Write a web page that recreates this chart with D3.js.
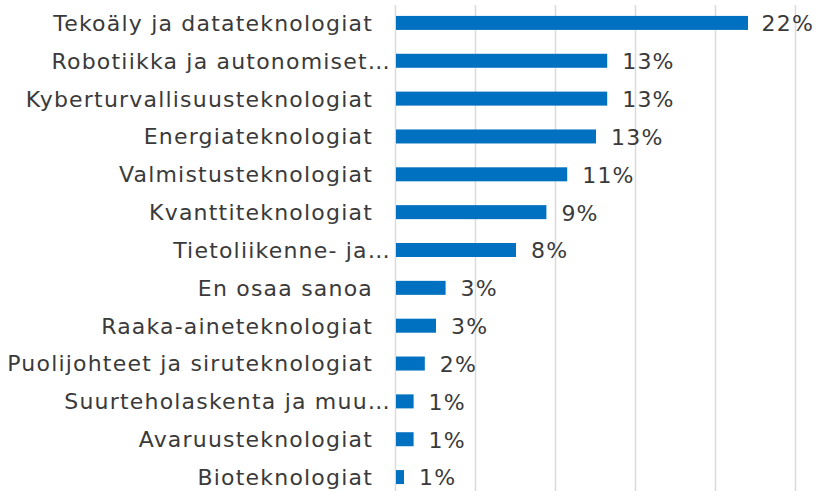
<!DOCTYPE html>
<html>
<head>
<meta charset="utf-8">
<script src="https://cdn.jsdelivr.net/npm/d3@7"></script>
<style>
  body { margin: 0; background: #fff; }
  text { font-family: "DejaVu Sans", Verdana, sans-serif; fill: #3a3a3a; }
</style>
</head>
<body>
<div id="chart"></div>
<script>
// Categories (top to bottom) and share of answers in percent
const categories = [
  'Tekoäly ja datateknologiat',
  'Robotiikka ja autonomiset…',
  'Kyberturvallisuusteknologiat',
  'Energiateknologiat',
  'Valmistusteknologiat',
  'Kvanttiteknologiat',
  'Tietoliikenne- ja…',
  'En osaa sanoa',
  'Raaka-aineteknologiat',
  'Puolijohteet ja siruteknologiat',
  'Suurteholaskenta ja muu…',
  'Avaruusteknologiat',
  'Bioteknologiat'
];
const values = [22, 13.2, 13.2, 12.5, 10.7, 9.4, 7.5, 3.1, 2.5, 1.8, 1.1, 1.1, 0.5];
const gridTicks = [0, 5, 10, 15, 20, 25];

const width = 817, height = 491;
const fontSize = 22;
const barHeight = 14;

const svg = d3.select('#chart').append('svg')
  .attr('width', width)
  .attr('height', height);

const x = d3.scaleLinear().domain([0, 25]).range([396, 796]);
const y = d3.scaleBand().domain(categories).range([4, 496]);

// Vertical gridlines
svg.append('g')
  .selectAll('line')
  .data(gridTicks)
  .enter().append('line')
  .attr('x1', d => x(d) - 0.5)
  .attr('x2', d => x(d) - 0.5)
  .attr('y1', 5)
  .attr('y2', 497)
  .attr('stroke', '#D9D9E0')
  .attr('stroke-width', 1.5);

// Bars
svg.append('g')
  .selectAll('rect')
  .data(values)
  .enter().append('rect')
  .attr('x', x(0))
  .attr('y', (d, i) => y(categories[i]) + (y.bandwidth() - barHeight) / 2)
  .attr('width', d => x(d) - x(0))
  .attr('height', barHeight)
  .attr('fill', '#0070C0');

// Category labels
svg.append('g')
  .selectAll('text')
  .data(categories)
  .enter().append('text')
  .attr('x', d => d.endsWith('…') ? 391 : 373)
  .attr('y', d => y(d) + y.bandwidth() / 2 + fontSize * 0.36)
  .attr('text-anchor', 'end')
  .style('font-size', fontSize + 'px')
  .style('letter-spacing', '1.2px')
  .text(d => d);

// Value labels
svg.append('g')
  .selectAll('text')
  .data(values)
  .enter().append('text')
  .attr('x', d => x(d) + 15)
  .attr('y', (d, i) => y(categories[i]) + y.bandwidth() / 2 + fontSize * 0.36 + 0.5)
  .style('font-size', fontSize + 'px')
  .style('letter-spacing', '1.2px')
  .text(d => Math.round(d) + '%')
  .each(function () {
    // keep the label inside the chart area
    const w = this.getComputedTextLength();
    const x0 = +this.getAttribute('x');
    if (x0 + w > width - 3) this.setAttribute('x', width - 3 - w);
  });
</script>
</body>
</html>
